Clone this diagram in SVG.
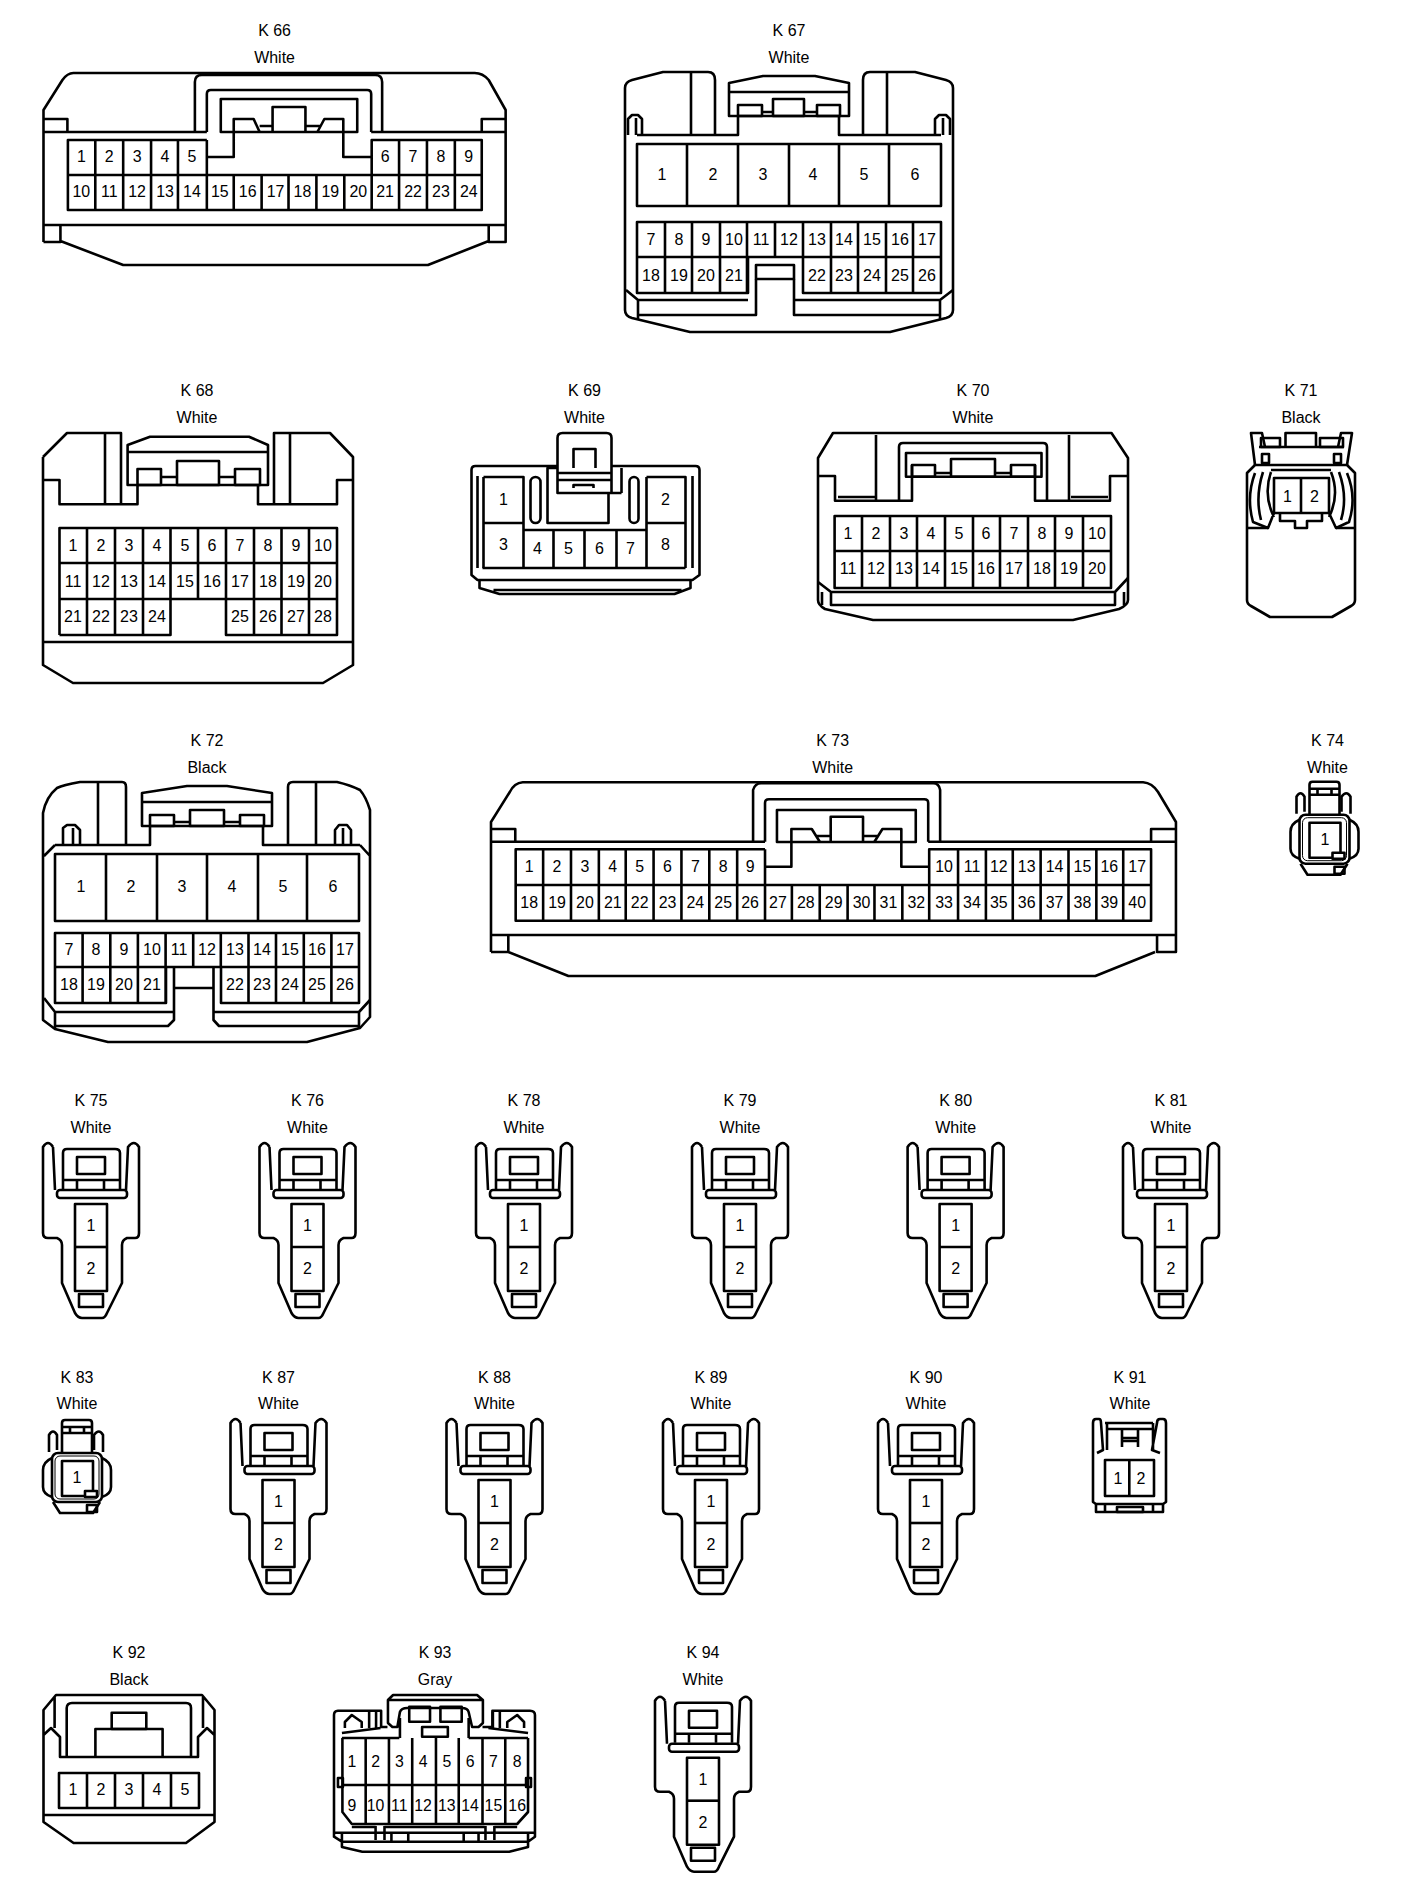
<svg xmlns="http://www.w3.org/2000/svg" width="1408" height="1894" viewBox="0 0 1408 1894">
<style>
.l{fill:none;stroke:#000;stroke-width:2.6;stroke-linejoin:round}
.w{fill:#fff;stroke:#000;stroke-width:2.6;stroke-linejoin:round}
.t{font-family:"Liberation Sans",Arial,sans-serif;font-size:16px;fill:#000;text-anchor:middle}
</style>
<defs>
<g id="plug">
<path class="l" d="M53 1147Q48 1139 43 1147V1233Q43 1238 48 1238H57Q62 1240 62 1245V1283L75 1313Q78 1318 82 1318H102Q105 1318 107 1313L122 1283V1245Q122 1240 127 1238H135Q139 1238 139 1233V1147Q134 1139 128 1147L126 1190M53 1147L55 1190"/>
<rect class="l" x="57" y="1190" width="70" height="8" rx="3"/>
<path class="l" d="M63 1189V1153Q63 1149 67 1149H115Q120 1149 120 1153V1189M63 1180H120M77 1180V1189M104 1180V1189"/>
<rect class="l" x="77" y="1157" width="28" height="17"/>
<rect class="l" x="75" y="1204" width="32" height="87"/>
<path class="l" d="M75 1247H107"/>
<rect class="l" x="79" y="1294" width="24" height="13"/>
</g>
<g id="mini">
<path class="l" d="M62 1453V1423Q62 1420 65 1420H89Q92 1420 92 1423V1453M62 1427H92M62 1433H92M70 1427V1433M84 1427V1433"/>
<path class="l" d="M49 1452V1435Q53 1428 57 1435V1450M94 1450V1435Q99 1428 103 1435V1452"/>
<rect class="l" x="52" y="1453" width="50" height="49" rx="6"/>
<rect class="l" x="55" y="1456" width="44" height="43" rx="5" style="stroke-width:1"/>
<path class="l" d="M52 1458Q43 1462 43 1470V1487Q43 1494 52 1497M102 1458Q111 1462 111 1470V1487Q111 1494 102 1497M53 1502L60 1513H93L100 1502"/>
<rect class="l" x="62" y="1461" width="31" height="35"/>
<rect class="w" x="85" y="1491" width="12" height="6"/>
<rect class="l" x="87" y="1505" width="10" height="7"/>
</g>
</defs>

<g id="K66" transform="translate(.67,0) scale(.996,1)">
<text class="t" x="275" y="36">K 66</text><text class="t" x="275" y="63">White</text>
<path class="l" d="M43 242V110L62 80Q67 73 73 73H476Q484 73 490 80L507 110V242H490V225M43 242H60V225M60 241L123 265H429L490 241M43 225H507M43 132H207M372 132H507M43 119H67V132M507 119H483V132"/>
<path class="l" d="M195 132V82Q195 75 202 75H376Q383 75 383 82V132M207 132V94Q207 90 211 90H368Q372 90 372 94V132"/>
<rect class="l" x="221" y="99" width="137" height="33"/>
<path class="l" d="M207 140H67.5V210H483V140H372.5V175M67.5 175H483M207 140V175M207 157H234V119H254L260 132M372 157H344V119H325L318 132M273 132V107H306V132M260 126H273M306 126H322"/>
<path class="l" d="M95 140V210M123 140V210M151 140V210M178 140V210M207 175V210M234 175V210M262 175V210M289 175V210M317 175V210M345 175V210M372.5 175V210M400 140V210M428 140V210M456 140V210"/>
<text class="t" x="81" y="162">1</text><text class="t" x="109" y="162">2</text><text class="t" x="137" y="162">3</text><text class="t" x="165" y="162">4</text><text class="t" x="192" y="162">5</text><text class="t" x="386" y="162">6</text><text class="t" x="414" y="162">7</text><text class="t" x="442" y="162">8</text><text class="t" x="470" y="162">9</text>
<text class="t" x="81" y="197">10</text><text class="t" x="109" y="197">11</text><text class="t" x="137" y="197">12</text><text class="t" x="165" y="197">13</text><text class="t" x="192" y="197">14</text><text class="t" x="220" y="197">15</text><text class="t" x="248" y="197">16</text><text class="t" x="276" y="197">17</text><text class="t" x="303" y="197">18</text><text class="t" x="331" y="197">19</text><text class="t" x="359" y="197">20</text><text class="t" x="386" y="197">21</text><text class="t" x="414" y="197">22</text><text class="t" x="442" y="197">23</text><text class="t" x="470" y="197">24</text>
</g>

<g id="K67">
<text class="t" x="789" y="36">K 67</text><text class="t" x="789" y="63">White</text>
<path class="l" d="M715 135V80Q715 72 708 72H663L632 80Q625 82 625 88V310Q625 316 632 318L690 332H890L946 318Q953 316 953 310V88Q953 82 946 80L915 72H870Q863 72 863 80V135M691 72V135M887 72V135M637 135H738V115M839 115V135H941"/>
<path class="l" d="M738 116H729V83L763 76H815L849 83V116H839M729 92H849M729 116H849"/>
<rect class="l" x="738" y="105" width="24" height="11"/><rect class="l" x="817" y="105" width="23" height="11"/><rect class="l" x="773" y="99" width="31" height="17"/>
<path class="l" d="M762 112H773M804 112H817"/>
<path class="l" d="M628 135V119L632 115H638L642 119V135M636 118V135M935 135V119L939 115H946L950 119V135M943 118V135"/>
<rect class="l" x="637" y="144" width="304" height="62"/>
<path class="l" d="M687 144V206M738 144V206M789 144V206M839 144V206M889 144V206"/>
<path class="l" d="M637 257V222H941V293H803V257M637 257V293H748V257M637 257H941M665 222V293M692 222V293M720 222V293M747 222V293M775 222V257M803 222V257M831 222V293M858 222V293M886 222V293M913 222V293"/>
<rect class="l" x="756" y="265" width="38" height="14"/>
<path class="l" d="M756 279V315H638V300M794 279V315H940V300M638 300H748M794 300H940M626 290L638 300M953 290L940 300M638 315V319M940 315V319"/>
<text class="t" x="662" y="180">1</text><text class="t" x="713" y="180">2</text><text class="t" x="763" y="180">3</text><text class="t" x="813" y="180">4</text><text class="t" x="864" y="180">5</text><text class="t" x="915" y="180">6</text>
<text class="t" x="651" y="245">7</text><text class="t" x="679" y="245">8</text><text class="t" x="706" y="245">9</text><text class="t" x="734" y="245">10</text><text class="t" x="761" y="245">11</text><text class="t" x="789" y="245">12</text><text class="t" x="817" y="245">13</text><text class="t" x="844" y="245">14</text><text class="t" x="872" y="245">15</text><text class="t" x="900" y="245">16</text><text class="t" x="927" y="245">17</text>
<text class="t" x="651" y="281">18</text><text class="t" x="679" y="281">19</text><text class="t" x="706" y="281">20</text><text class="t" x="734" y="281">21</text><text class="t" x="817" y="281">22</text><text class="t" x="844" y="281">23</text><text class="t" x="872" y="281">24</text><text class="t" x="900" y="281">25</text><text class="t" x="927" y="281">26</text>
</g>

<g id="K68">
<text class="t" x="197" y="396">K 68</text><text class="t" x="197" y="423">White</text>
<path class="l" d="M43 480H59.5V504.3H137.5V485M258 485V504.3H337V480H353M43 457L67 433H121V504M105 433V504M274 504V433H330L353 457V665L323 683H73L43 665V457M290 433V504M43 642H353"/>
<path class="l" d="M137.5 485H127.6V445L150 436.7H249L268 445V485H258M127.6 452H268M127.6 485H268"/>
<rect class="l" x="137.5" y="469" width="23.5" height="16"/><rect class="l" x="235" y="469" width="25" height="16"/><rect class="l" x="177" y="461" width="42" height="24"/>
<path class="l" d="M161 477H177M219 477H235"/>
<path class="l" d="M59.5 635V528H337V635H226V599M170.5 599V635H59.5M59.5 563H337M59.5 599H337M87 528V635M115 528V635M143 528V635M170.5 528V599M198 528V599M226 528V599M254 528V635M281.5 528V635M309 528V635"/>
<text class="t" x="73" y="551">1</text><text class="t" x="101" y="551">2</text><text class="t" x="129" y="551">3</text><text class="t" x="157" y="551">4</text><text class="t" x="185" y="551">5</text><text class="t" x="212" y="551">6</text><text class="t" x="240" y="551">7</text><text class="t" x="268" y="551">8</text><text class="t" x="296" y="551">9</text><text class="t" x="323" y="551">10</text>
<text class="t" x="73" y="587">11</text><text class="t" x="101" y="587">12</text><text class="t" x="129" y="587">13</text><text class="t" x="157" y="587">14</text><text class="t" x="185" y="587">15</text><text class="t" x="212" y="587">16</text><text class="t" x="240" y="587">17</text><text class="t" x="268" y="587">18</text><text class="t" x="296" y="587">19</text><text class="t" x="323" y="587">20</text>
<text class="t" x="73" y="622">21</text><text class="t" x="101" y="622">22</text><text class="t" x="129" y="622">23</text><text class="t" x="157" y="622">24</text><text class="t" x="240" y="622">25</text><text class="t" x="268" y="622">26</text><text class="t" x="296" y="622">27</text><text class="t" x="323" y="622">28</text>
</g>

<g id="K69" transform="translate(-2.5,0)">
<text class="t" x="587" y="396">K 69</text><text class="t" x="587" y="423">White</text>
<path class="l" d="M474 470Q474 466 478 466H698Q702 466 702 470V575L695 580H480L474 575ZM482 580V588L502 594H677L693 588V580M496 590H684M480 476V568M695 476V568M485 568H688"/>
<rect class="l" x="550" y="468" width="61" height="55"/>
<path class="l" d="M624 468V493"/>
<rect class="l" x="533" y="477" width="10" height="46" rx="5"/><rect class="l" x="632" y="477" width="9" height="46" rx="4.5"/>
<path class="l" d="M486 477H526V568M486 477V568M486 523H526M649 477H688V568M649 477V568M649 523H688M526 530H649M556 530V568M587 530V568M619 530V568"/>
<path class="w" d="M560 493V438Q560 433 565 433H609Q614 433 614 438V493ZM614 493H624"/>
<path class="l" d="M560 473H614M560 480H614M576 468V449H598V468M576 488V485H596V488"/>
<text class="t" x="506" y="505">1</text><text class="t" x="668" y="505">2</text><text class="t" x="506" y="550">3</text><text class="t" x="540" y="554">4</text><text class="t" x="571" y="554">5</text><text class="t" x="602" y="554">6</text><text class="t" x="633" y="554">7</text><text class="t" x="668" y="550">8</text>
</g>

<g id="K70">
<text class="t" x="973" y="396">K 70</text><text class="t" x="973" y="423">White</text>
<path class="l" d="M818 458L833 433H1111.5L1128 458V600Q1128 605 1119 609L1073 620H873L825 609Q818 605 818 600ZM818 476H835V500.7H912V465M1128 476H1110V500.7H1035V465M876 435V500.7M1069 435V500.7"/>
<path class="l" d="M899 500.7V447Q899 443 903 443H1043Q1047 443 1047 447V500.7"/>
<rect class="l" x="906" y="453" width="135.5" height="23.7"/>
<rect class="l" x="912" y="465" width="23" height="11.7"/><rect class="l" x="1011" y="465" width="24" height="11.7"/><rect class="l" x="951" y="459" width="44" height="17.7"/>
<path class="l" d="M935 473H951M995 473H1011M838 497H875M1071 497H1108"/>
<path class="l" d="M834.6 516H1111V588H834.6ZM834.6 551H1111M862 516V588M890 516V588M917 516V588M945 516V588M973 516V588M1000 516V588M1028 516V588M1055 516V588M1083 516V588"/>
<path class="l" d="M818 582L831 592H1115L1128 578M831 592V605H1115V592M822 592V605M1124 592V605"/>
<text class="t" x="848" y="539">1</text><text class="t" x="876" y="539">2</text><text class="t" x="904" y="539">3</text><text class="t" x="931" y="539">4</text><text class="t" x="959" y="539">5</text><text class="t" x="986" y="539">6</text><text class="t" x="1014" y="539">7</text><text class="t" x="1042" y="539">8</text><text class="t" x="1069" y="539">9</text><text class="t" x="1097" y="539">10</text>
<text class="t" x="848" y="574">11</text><text class="t" x="876" y="574">12</text><text class="t" x="904" y="574">13</text><text class="t" x="931" y="574">14</text><text class="t" x="959" y="574">15</text><text class="t" x="986" y="574">16</text><text class="t" x="1014" y="574">17</text><text class="t" x="1042" y="574">18</text><text class="t" x="1069" y="574">19</text><text class="t" x="1097" y="574">20</text>
</g>

<g id="K71" transform="translate(-1,0)">
<text class="t" x="1302" y="396">K 71</text><text class="t" x="1302" y="423">Black</text>
<path class="l" d="M1256 465L1252 433H1263L1266 447M1348 465L1353 433H1342L1339 447M1286.5 447V433H1317V447M1260 447H1345"/>
<rect class="l" x="1262" y="438" width="19" height="9"/><rect class="l" x="1321" y="438" width="23" height="9"/><rect class="l" x="1263" y="454" width="7" height="9"/><rect class="l" x="1335" y="454" width="7" height="9"/>
<path class="l" d="M1248 473L1256 465H1348L1356 473V600Q1356 604 1352 606L1333 617H1271L1252 606Q1248 604 1248 600ZM1248 528H1269M1337 528H1356"/>
<path class="l" d="M1272 470H1332M1256 473Q1247 497 1254 522L1269 528L1275 513M1264 472Q1256 497 1262 520M1272 472Q1264 495 1275 517M1348 473Q1358 497 1350 522L1337 528L1330 513M1340 472Q1349 497 1342 520M1332 472Q1341 495 1330 517"/>
<rect class="l" x="1275" y="478" width="55" height="35"/>
<path class="l" d="M1302 478V513M1281 513V521H1296V528H1308V521H1323V513"/>
<text class="t" x="1288.500" y="502">1</text><text class="t" x="1315.500" y="502">2</text>
</g>

<g id="K72">
<text class="t" x="207" y="745.700">K 72</text><text class="t" x="207" y="772.700">Black</text>
<path class="l" d="M126 845V787Q126 782 122 782H80Q63 785 57 788Q46 797 43 813V1020L55 1029L108 1042H307L360 1028L370 1017V810Q366 797 360 790Q350 785 337 782H293Q288 782 288 787V845M98 782V845M316 782V845M55 845H150V826M263 826V845H360M44 856L55 845M370 856L360 845"/>
<path class="l" d="M150 826H142V793L187 786H227L272 793V826H263M142 802H272M142 826H272"/>
<rect class="l" x="150" y="815" width="24" height="11"/><rect class="l" x="240" y="815" width="24" height="11"/><rect class="l" x="190" y="810" width="34" height="16"/>
<path class="l" d="M174 822H190M224 822H240"/>
<path class="l" d="M63 845V828L67 825H75L80 830V845M73 828V845M335 845V830L339 825H347L351 830V845M343 828V845"/>
<rect class="l" x="55" y="854" width="304" height="67"/>
<path class="l" d="M106 854V921M157 854V921M207 854V921M258 854V921M307 854V921"/>
<path class="l" d="M55 967V933H359V1003H221V967M55 967V1003H166V967M55 967H359M82.600 933V1003M110.300 933V1003M137.900 933V1003M165.600 933V1003M193.200 933V967M220.800 933V967M248.500 933V1003M276 933V1003M303.800 933V1003M331.400 933V1003"/>
<path class="l" d="M174 967V1020L168 1026H55V1012M213.500 967V1020L219 1026H359V1012M174 988H213.500M55 1012H174M213.500 1012H359M44 998L55 1012M370 1000L359 1012M55 1026V1029M359 1026V1029"/>
<text class="t" x="81" y="892">1</text><text class="t" x="131" y="892">2</text><text class="t" x="182" y="892">3</text><text class="t" x="232" y="892">4</text><text class="t" x="283" y="892">5</text><text class="t" x="333" y="892">6</text>
<text class="t" x="69" y="955">7</text><text class="t" x="96" y="955">8</text><text class="t" x="124" y="955">9</text><text class="t" x="152" y="955">10</text><text class="t" x="179" y="955">11</text><text class="t" x="207" y="955">12</text><text class="t" x="235" y="955">13</text><text class="t" x="262" y="955">14</text><text class="t" x="290" y="955">15</text><text class="t" x="317" y="955">16</text><text class="t" x="345" y="955">17</text>
<text class="t" x="69" y="990">18</text><text class="t" x="96" y="990">19</text><text class="t" x="124" y="990">20</text><text class="t" x="152" y="990">21</text><text class="t" x="235" y="990">22</text><text class="t" x="262" y="990">23</text><text class="t" x="290" y="990">24</text><text class="t" x="317" y="990">25</text><text class="t" x="345" y="990">26</text>
</g>

<g id="K73" transform="translate(2.850,0) scale(.995,1)">
<text class="t" x="834" y="745.700">K 73</text><text class="t" x="834" y="772.700">White</text>
<path class="l" d="M490.600 952V822L509.500 792Q514 783 522.500 782.300H1146Q1155 783 1161 792L1179 822V952H1160V935M490.600 952H508V935M508 952L568.400 976H1098L1158 952M490.600 935H1179M490.600 841.700H766M930 841.700H1179M490.600 829H515V841.700M1179 829H1154V841.700"/>
<path class="l" d="M754 841.700V790Q756 783.300 762 783.300H935Q941 783.300 942 790V841.700M766 841.700V803Q766 799.300 770 799.300H926Q930 799.300 930 803V841.700"/>
<rect class="l" x="778" y="810" width="139.500" height="32"/>
<path class="l" d="M766 849.300H515.400V920.700H1154V849.300H931V885M515.400 885H1154M766 849.300V885M766 866.700H792.500V829H813L821 841.700M931 866.700H903V829H884L876 841.700M832 841.700V816.700H864.500V841.700M818 836H832M864.500 836H880"/>
<path class="l" d="M543 849V921M571 849V921M599 849V921M626 849V921M654 849V921M682 849V921M710 849V921M738 849V921M766 885V921M793 885V921M821 885V921M849 885V921M876 885V921M904 885V921M931 885V921M960 849V921M988 849V921M1015 849V921M1043 849V921M1071 849V921M1099 849V921M1126 849V921"/>
<text class="t" x="529" y="872">1</text><text class="t" x="557" y="872">2</text><text class="t" x="585" y="872">3</text><text class="t" x="613" y="872">4</text><text class="t" x="640" y="872">5</text><text class="t" x="668" y="872">6</text><text class="t" x="696" y="872">7</text><text class="t" x="724" y="872">8</text><text class="t" x="751" y="872">9</text><text class="t" x="946" y="872">10</text><text class="t" x="974" y="872">11</text><text class="t" x="1001" y="872">12</text><text class="t" x="1029" y="872">13</text><text class="t" x="1057" y="872">14</text><text class="t" x="1085" y="872">15</text><text class="t" x="1112" y="872">16</text><text class="t" x="1140" y="872">17</text>
<text class="t" x="529" y="908">18</text><text class="t" x="557" y="908">19</text><text class="t" x="585" y="908">20</text><text class="t" x="613" y="908">21</text><text class="t" x="640" y="908">22</text><text class="t" x="668" y="908">23</text><text class="t" x="696" y="908">24</text><text class="t" x="724" y="908">25</text><text class="t" x="751" y="908">26</text><text class="t" x="779" y="908">27</text><text class="t" x="807" y="908">28</text><text class="t" x="835" y="908">29</text><text class="t" x="863" y="908">30</text><text class="t" x="890" y="908">31</text><text class="t" x="918" y="908">32</text><text class="t" x="946" y="908">33</text><text class="t" x="974" y="908">34</text><text class="t" x="1001" y="908">35</text><text class="t" x="1029" y="908">36</text><text class="t" x="1057" y="908">37</text><text class="t" x="1085" y="908">38</text><text class="t" x="1112" y="908">39</text><text class="t" x="1140" y="908">40</text>
</g>

<g id="K74">
<text class="t" x="1327.500" y="745.700">K 74</text><text class="t" x="1327.500" y="772.700">White</text>
<use href="#mini" transform="translate(1247.500,-638.300)"/>
<text class="t" x="1325" y="845">1</text>
</g>

<g id="K75"><text class="t" x="91" y="1106">K 75</text><text class="t" x="91" y="1133">White</text><use href="#plug"/><text class="t" x="91" y="1231">1</text><text class="t" x="91" y="1274">2</text></g>
<g id="K76"><text class="t" x="307.500" y="1106">K 76</text><text class="t" x="307.500" y="1133">White</text><use href="#plug" x="216.500"/><text class="t" x="307.500" y="1231">1</text><text class="t" x="307.500" y="1274">2</text></g>
<g id="K78"><text class="t" x="524" y="1106">K 78</text><text class="t" x="524" y="1133">White</text><use href="#plug" x="433"/><text class="t" x="524" y="1231">1</text><text class="t" x="524" y="1274">2</text></g>
<g id="K79"><text class="t" x="740" y="1106">K 79</text><text class="t" x="740" y="1133">White</text><use href="#plug" x="649"/><text class="t" x="740" y="1231">1</text><text class="t" x="740" y="1274">2</text></g>
<g id="K80"><text class="t" x="955.600" y="1106">K 80</text><text class="t" x="955.600" y="1133">White</text><use href="#plug" x="864.600"/><text class="t" x="955.600" y="1231">1</text><text class="t" x="955.600" y="1274">2</text></g>
<g id="K81"><text class="t" x="1171" y="1106">K 81</text><text class="t" x="1171" y="1133">White</text><use href="#plug" x="1080"/><text class="t" x="1171" y="1231">1</text><text class="t" x="1171" y="1274">2</text></g>

<g id="K83"><text class="t" x="77" y="1383">K 83</text><text class="t" x="77" y="1409">White</text><use href="#mini"/><text class="t" x="77" y="1483">1</text></g>
<g id="K87"><text class="t" x="278.500" y="1383">K 87</text><text class="t" x="278.500" y="1409">White</text><use href="#plug" x="187.500" y="276"/><text class="t" x="278.500" y="1507">1</text><text class="t" x="278.500" y="1550">2</text></g>
<g id="K88"><text class="t" x="494.500" y="1383">K 88</text><text class="t" x="494.500" y="1409">White</text><use href="#plug" x="403.500" y="276"/><text class="t" x="494.500" y="1507">1</text><text class="t" x="494.500" y="1550">2</text></g>
<g id="K89"><text class="t" x="711" y="1383">K 89</text><text class="t" x="711" y="1409">White</text><use href="#plug" x="620" y="276"/><text class="t" x="711" y="1507">1</text><text class="t" x="711" y="1550">2</text></g>
<g id="K90"><text class="t" x="926" y="1383">K 90</text><text class="t" x="926" y="1409">White</text><use href="#plug" x="835" y="276"/><text class="t" x="926" y="1507">1</text><text class="t" x="926" y="1550">2</text></g>

<g id="K91">
<text class="t" x="1130" y="1383">K 91</text><text class="t" x="1130" y="1409">White</text>
<path class="l" d="M1093 1423Q1093 1419 1096 1419H1099Q1101 1419 1101 1423L1103 1450L1097 1453M1166 1423Q1166 1419 1163 1419H1160Q1157 1419 1157 1423L1152 1450L1160 1453M1093 1423V1502L1096 1504H1163L1166 1502V1423M1105 1423H1153M1107 1429H1153M1107 1423V1450M1153 1423V1450M1122 1429V1447M1138 1429V1447M1122 1438H1138M1122 1441H1138"/>
<rect class="l" x="1105" y="1460" width="49" height="36"/>
<path class="l" d="M1129.300 1460V1496M1096 1504V1512H1163V1504M1105 1504V1512M1153 1504V1512"/>
<rect class="l" x="1117" y="1507" width="26" height="5"/>
<text class="t" x="1118" y="1484">1</text><text class="t" x="1141" y="1484">2</text>
</g>

<g id="K92">
<text class="t" x="129" y="1658">K 92</text><text class="t" x="129" y="1685">Black</text>
<path class="l" d="M43.500 1710L56 1695H202L214.500 1710V1822L186 1843H73.600L43.500 1822ZM43.500 1735L51 1728L60 1737V1757H198V1737L207 1728L214.500 1735M54.600 1697V1728M203 1697V1728M43.500 1815H214.500"/>
<path class="l" d="M66.700 1757V1708Q67 1703 72 1703H186Q191 1703 191 1708V1757M95.400 1757V1729H162.600V1757"/>
<rect class="l" x="111.700" y="1712.700" width="34.600" height="16.300"/>
<rect class="l" x="59" y="1773" width="140" height="35"/>
<path class="l" d="M87 1773V1808M115 1773V1808M143 1773V1808M171 1773V1808"/>
<text class="t" x="73" y="1795">1</text><text class="t" x="101" y="1795">2</text><text class="t" x="129" y="1795">3</text><text class="t" x="157" y="1795">4</text><text class="t" x="185" y="1795">5</text>
</g>

<g id="K93" transform="translate(3.340,0) scale(.99,1)">
<text class="t" x="436" y="1658">K 93</text><text class="t" x="436" y="1685">Gray</text>
<path class="l" d="M388 1727H381.600V1710.700H338Q334 1711 334 1715V1836.700L342 1841.700M484 1727H494V1710.700H532Q537 1711 537 1715V1836.700L530 1841.700M342 1832V1847L362.600 1851.700H511L530 1847V1832M334 1832.700H537M342 1841.700H530"/>
<path class="l" d="M388.500 1700V1723L393 1727H398L400.600 1712Q402 1708 408 1708H463Q469 1708 470 1712L473.500 1727H480L484.400 1723V1700L478.500 1695H393.700ZM388.500 1700H484.400M400.600 1718V1738M470 1718V1738"/>
<rect class="l" x="410" y="1706.700" width="21" height="15"/><rect class="l" x="441.500" y="1706.700" width="21.500" height="15"/><rect class="l" x="423" y="1727" width="26" height="9.700"/>
<path class="l" d="M342 1733L381 1728M342 1738H400M530 1733L490 1728M470 1738H530"/>
<path class="l" d="M345 1728V1722L352 1715L362 1722V1728M369.500 1712V1728M376.500 1712V1728M526 1728V1722L519 1715L509 1722V1728M501.500 1712V1728M494.500 1712V1728"/>
<path class="l" d="M342.500 1738V1812L352 1824H519L530 1812V1738M342.500 1785H530M366 1738V1824M389.500 1738V1824M413 1738V1824M437 1738V1824M460 1738V1824M484 1738V1824M507 1738V1824"/>
<rect class="l" x="338" y="1778" width="5" height="9"/><rect class="l" x="528" y="1778" width="5" height="9"/>
<path class="l" d="M352 1827H376M385 1827H486M496 1827H519M376 1826V1840M385 1826V1840M392 1832V1841M409 1832V1841M465 1832V1841M480 1832V1841M487 1826V1840M496 1826V1840"/>
<text class="t" x="352" y="1767">1</text><text class="t" x="376" y="1767">2</text><text class="t" x="400" y="1767">3</text><text class="t" x="424" y="1767">4</text><text class="t" x="448" y="1767">5</text><text class="t" x="471.500" y="1767">6</text><text class="t" x="495" y="1767">7</text><text class="t" x="519" y="1767">8</text>
<text class="t" x="352" y="1811">9</text><text class="t" x="376" y="1811">10</text><text class="t" x="400" y="1811">11</text><text class="t" x="424" y="1811">12</text><text class="t" x="448" y="1811">13</text><text class="t" x="471.500" y="1811">14</text><text class="t" x="495" y="1811">15</text><text class="t" x="519" y="1811">16</text>
</g>

<g id="K94"><text class="t" x="703" y="1658">K 94</text><text class="t" x="703" y="1685">White</text><use href="#plug" x="612" y="553.700"/><text class="t" x="703" y="1785">1</text><text class="t" x="703" y="1828">2</text></g>
</svg>
